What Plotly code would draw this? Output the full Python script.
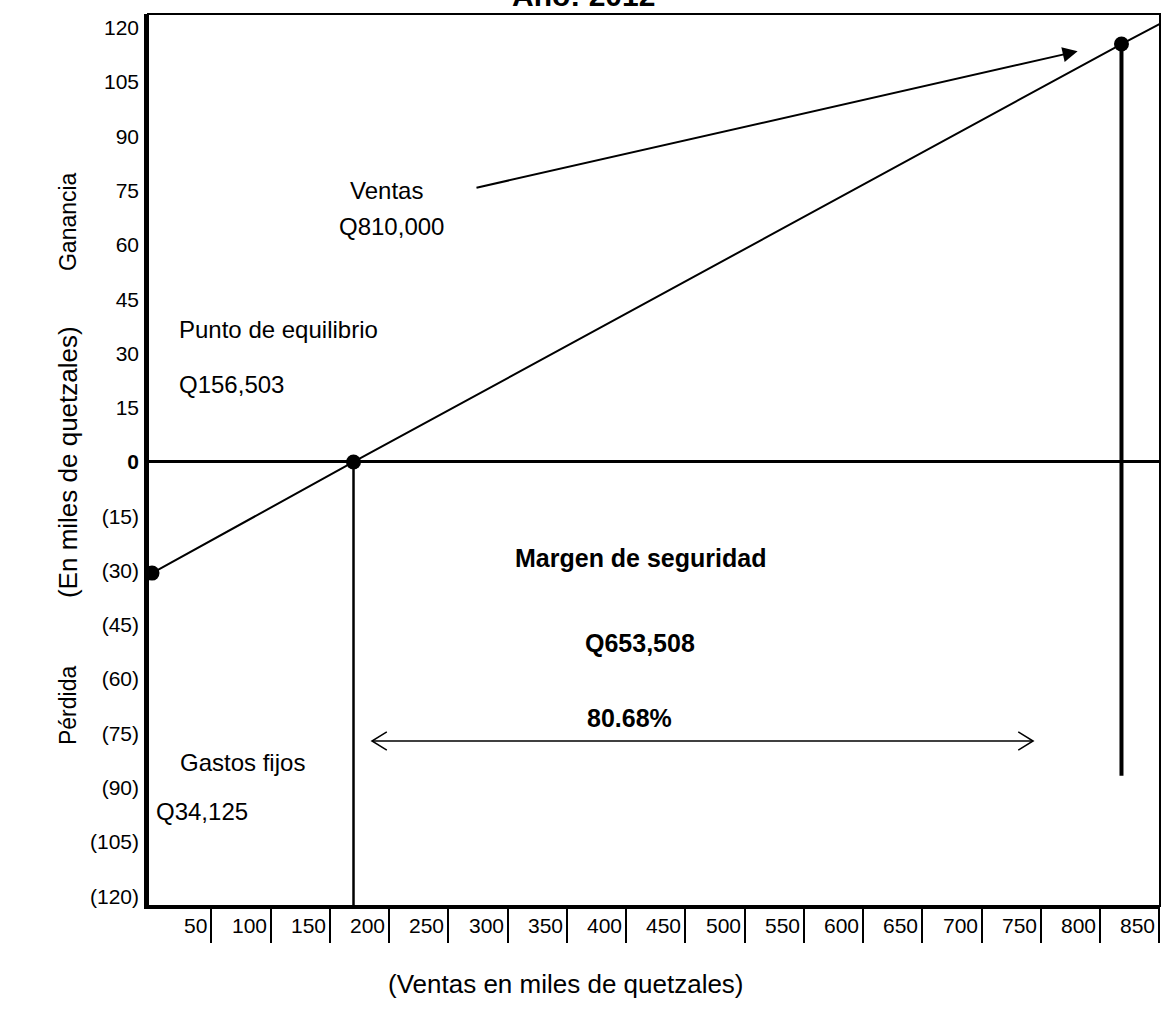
import plotly.graph_objects as go

# ---- data (thousands of quetzales, as drawn) ----
line_x = [0, 170, 818, 850]
line_y = [-30.7, 0, 115.5, 121.0]
point_x = [0, 170, 818]
point_y = [-30.7, 0, 115.5]
breakeven_x = [170, 170]
breakeven_y = [0, -122.7]
sales_x = [818, 818]
sales_y = [115.5, -86.7]

x_ticks = [50, 100, 150, 200, 250, 300, 350, 400, 450, 500, 550, 600, 650, 700, 750, 800, 850]
y_ticks = [120, 105, 90, 75, 60, 45, 30, 15, 0, -15, -30, -45, -60, -75, -90, -105, -120]
y_ticktext = ["120", "105", "90", "75", "60", "45", "30", "15", "<b>0</b>",
              "(15)", "(30)", "(45)", "(60)", "(75)", "(90)", "(105)", "(120)"]

X_RANGE = [-3.4, 850.5]
Y_RANGE = [-122.7, 123.8]

FONT = "Liberation Sans, Arial, sans-serif"

fig = go.Figure()
fig.add_trace(go.Scatter(x=line_x, y=line_y, mode="lines",
                         line=dict(color="black", width=2), hoverinfo="skip"))
fig.add_trace(go.Scatter(x=breakeven_x, y=breakeven_y, mode="lines",
                         line=dict(color="black", width=2.5), hoverinfo="skip"))
fig.add_trace(go.Scatter(x=sales_x, y=sales_y, mode="lines",
                         line=dict(color="black", width=4), hoverinfo="skip"))
fig.add_trace(go.Scatter(x=point_x, y=point_y, mode="markers",
                         marker=dict(color="black", size=15), hoverinfo="skip",
                         cliponaxis=False))

annotations = []
# x tick labels (right-aligned against separators)
for v in x_ticks:
    annotations.append(dict(x=v, y=0, xref="x", yref="paper", text=str(v),
                            showarrow=False, xanchor="right", yanchor="middle",
                            xshift=-2, yshift=-19,
                            font=dict(family=FONT, size=21, color="black")))

def txt(x, y, s, anchor="center", bold=False, size=24):
    return dict(x=x, y=y, xref="x", yref="y", text=("<b>%s</b>" % s) if bold else s,
                showarrow=False, xanchor=anchor, yanchor="middle",
                font=dict(family=FONT, size=size, color="black"))

annotations += [
    txt(198, 74.9, "Ventas"),
    txt(202, 65.2, "Q810,000"),
    txt(21, 36.7, "Punto de equilibrio", "left"),
    txt(21, 21.5, "Q156,503", "left"),
    txt(412, -26.5, "Margen de seguridad", bold=True, size=25),
    txt(412, -50, "Q653,508", bold=True, size=25),
    txt(403, -70.7, "80.68%", bold=True, size=25),
    txt(22, -83.1, "Gastos fijos", "left"),
    txt(2, -96.7, "Q34,125", "left"),
]

# sales arrow
annotations.append(dict(x=781, y=113.5, ax=272.5, ay=75.7, xref="x", yref="y",
                        axref="x", ayref="y", text="", showarrow=True,
                        arrowhead=2, arrowsize=1.5, arrowwidth=2, arrowcolor="black"))

# title (partially cut off at top)
annotations.append(dict(x=0.43, y=1, xref="paper", yref="paper", text="<b>Año: 2012</b>",
                        showarrow=False, xanchor="center", yanchor="bottom", yshift=0,
                        font=dict(family=FONT, size=30, color="black")))

# axis titles
annotations.append(dict(x=0.413, y=-0.088, xref="paper", yref="paper",
                        text="(Ventas en miles de quetzales)", showarrow=False,
                        xanchor="center", yanchor="middle",
                        font=dict(family=FONT, size=26, color="black")))
for ypx, s, sz in [(462, "(En miles de quetzales)", 26), (222, "Ganancia", 23), (706, "Pérdida", 23)]:
    annotations.append(dict(x=-0.079, y=(906 - ypx) / 892, xref="paper", yref="paper",
                            text=s, showarrow=False, textangle=-90,
                            xanchor="center", yanchor="middle",
                            font=dict(family=FONT, size=sz, color="black")))

# double-headed margin arrow with open chevrons
arrow_y = -77.1
arrow_x0, arrow_x1 = 185.6, 743.4
hx, hy = 12.5, 2.5
shapes = [
    dict(type="line", xref="x", yref="y", x0=arrow_x0, x1=arrow_x1, y0=arrow_y, y1=arrow_y,
         line=dict(color="black", width=1.5)),
    dict(type="path", xref="x", yref="y",
         path="M %f,%f L %f,%f L %f,%f" % (arrow_x0 + hx, arrow_y + hy, arrow_x0, arrow_y,
                                          arrow_x0 + hx, arrow_y - hy),
         line=dict(color="black", width=1.5)),
    dict(type="path", xref="x", yref="y",
         path="M %f,%f L %f,%f L %f,%f" % (arrow_x1 - hx, arrow_y + hy, arrow_x1, arrow_y,
                                          arrow_x1 - hx, arrow_y - hy),
         line=dict(color="black", width=1.5)),
    dict(type="rect", xref="paper", yref="paper", x0=0, x1=1, y0=0, y1=1,
         line=dict(color="black", width=2), layer="above"),
]

fig.update_layout(
    width=1163, height=1013,
    margin=dict(l=148, r=3, t=14, b=107),
    plot_bgcolor="white", paper_bgcolor="white",
    showlegend=False,
    annotations=annotations,
    shapes=shapes,
    xaxis=dict(range=X_RANGE, tickvals=x_ticks, showticklabels=False,
               ticks="outside", ticklen=34, tickwidth=1.5, tickcolor="black",
               showline=True, linewidth=3, linecolor="black",
               showgrid=False, zeroline=False, fixedrange=True),
    yaxis=dict(range=Y_RANGE, tickvals=y_ticks, ticktext=y_ticktext,
               ticks="", showline=True, linewidth=3.5, linecolor="black",
               tickfont=dict(family=FONT, size=21, color="black"),
               ticklabelstandoff=1,
               showgrid=False, zeroline=True, zerolinewidth=3, zerolinecolor="black",
               fixedrange=True),
)

fig.write_html("out.html", config={"displayModeBar": False},
               post_script="document.body.style.margin='0';document.body.style.overflow='hidden';")
